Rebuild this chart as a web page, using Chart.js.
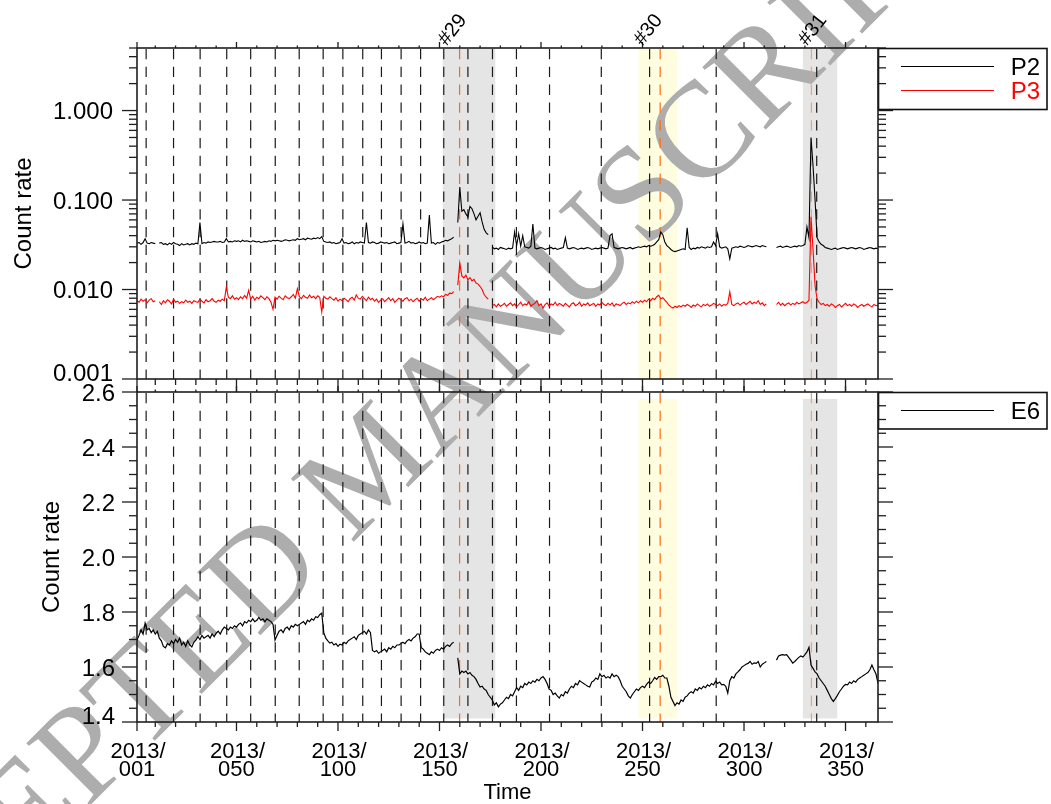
<!DOCTYPE html>
<html>
<head>
<meta charset="utf-8">
<script src="https://cdn.jsdelivr.net/npm/chart.js@4.4.0/dist/chart.umd.min.js"></script>
<style>
  html, body { margin: 0; padding: 0; background: #fff; }
  #wrap { position: relative; width: 1051px; height: 804px; }
  #wrap canvas { position: absolute; left: 0; top: 0; }
</style>
</head>
<body>
<div id="wrap">
  <canvas id="topPanel" width="1051" height="804"></canvas>
  <canvas id="bottomPanel" width="1051" height="804"></canvas>
</div>
<script>
// ---- data: daily count rates, day-of-year 2013 starting at firstDay ----
const firstDay = 1;

const p2 = [
  .033,.0335,.032,.0335,.037,.033,.0325,.0335,.033,.0325,
  null,.033,.0335,.032,.0325,.0315,.033,.032,.0335,.0325,
  .032,.031,.0325,.0315,.032,.0325,.0315,.0325,.032,.033,
  .0325,.056,.0325,.0335,.033,.034,.0335,.034,.0345,.034,
  .034,.0345,.0335,.034,.037,.034,.0345,.034,.035,.0345,
  .035,.034,.0355,.0345,.035,.0345,.034,.035,.0345,.034,
  .0345,.0335,.034,.0345,.034,.035,.0345,.0355,.035,.0355,
  .035,.0345,.035,.036,.0355,.035,.0355,.036,.0355,.037,
  .036,.0365,.037,.036,.0375,.037,.0365,.0375,.037,.038,
  .037,.039,.0345,.034,.0335,.034,.033,.0335,.0325,.033,
  .0335,.037,.033,.0335,.0325,.033,.034,.0325,.0335,.033,
  .034,.0335,.033,.056,.0335,.033,.034,.0335,.0325,.033,
  .034,.0335,.033,.0335,.0325,.033,.0335,.034,.0325,.033,
  .0335,.054,.033,.0335,.0345,.033,.0335,.0325,.033,.034,
  .033,.0335,.0325,.033,.068,.033,.0335,.032,.0335,.033,
  .034,.0345,.0355,.035,.036,.037,.0385,null,.056,.14,
  .075,.078,.07,.065,.085,.08,.07,.06,.066,.072,
  .057,.047,.043,.041,null,.030,.0285,.029,.028,.0295,
  .029,.0285,.028,.029,.0285,.029,.044,.031,.042,.0305,
  .040,.030,.0295,.029,.0305,.054,.029,.0285,.029,.0295,
  .029,.028,.0285,.029,.0295,.0285,.029,.028,.0285,.029,
  .0295,.038,.029,.0285,.029,.0295,.029,.028,.0285,.029,
  .0285,.029,.0295,.029,.028,.0285,.029,.0285,.029,.0295,
  .029,.0285,.029,.040,.042,.0295,.029,.0285,.029,.0295,
  .029,.0285,.029,.0295,.0285,.029,.0295,.030,.0295,.030,
  .0305,.030,.031,.0305,.031,.032,.034,.036,.044,.041,
  .034,.031,.0295,.028,.027,.0265,.027,.0275,.028,.0285,
  .028,.049,.0295,.028,.029,.0285,.0295,.029,.030,.0295,
  .029,.030,.0295,.030,.034,.031,.042,.030,.029,.0295,
  .030,.0285,.022,.029,.0295,.030,.0295,.0305,.030,.0295,
  .030,.031,.0305,.030,.0305,.031,.0305,.030,.031,.0305,
  .030,null,null,null,null,.0295,.030,.0305,.0295,.030,
  .0305,.030,.0295,.030,.0305,.030,.031,.0305,.031,.032,
  .050,.038,.50,.24,.10,.038,.034,.032,.031,.0295,
  .029,.0285,.028,.0285,.029,.028,.0285,.029,.0295,.029,
  .0285,.029,.0295,.029,.0285,.029,.0295,.029,.028,.0285,
  .029,.0295,.029,.0285,.029,.0285
];

const p3 = [
  .0075,.0072,.0078,.0074,.0077,.0071,.0076,.0079,.0073,.0075,
  null,.0073,.0068,.0075,.0071,.0077,.0074,.0069,.0078,.0072,
  .0074,.0070,.0073,.0071,.0076,.0072,.0074,.0070,.0075,.0073,
  .0072,.0078,.0074,.0071,.0077,.0073,.0075,.0079,.0074,.0072,
  .0076,.0074,.0078,.0075,.0106,.0082,.0079,.0085,.0078,.0081,
  .0077,.0083,.0079,.0086,.0080,.0098,.0078,.0084,.0076,.0082,
  .0079,.0085,.0081,.0077,.0083,.0079,.0072,.0060,.0082,.0078,
  .0084,.0080,.0077,.0085,.0081,.0079,.0083,.0088,.0080,.0102,
  .0083,.0079,.0086,.0082,.0080,.0087,.0081,.0084,.0079,.0085,
  .0082,.0056,.0084,.0080,.0078,.0083,.0079,.0076,.0081,.0074,
  .0078,.0075,.0080,.0077,.0073,.0079,.0082,.0076,.0087,.0080,
  .0078,.0084,.0079,.0075,.0082,.0077,.0080,.0074,.0078,.0072,
  .0076,.0079,.0073,.0077,.0081,.0075,.0079,.0072,.0076,.0080,
  .0077,.0074,.0079,.0081,.0075,.0078,.0073,.0077,.0080,.0074,
  .0079,.0076,.0082,.0075,.0078,.0081,.0077,.0080,.0084,.0082,
  .0085,.0083,.0088,.0086,.0091,.0090,.0095,null,.0112,.0197,
  .0142,.0135,.0145,.0128,.0136,.0125,.0130,.0118,.0115,.0108,
  .0100,.0088,.0082,.0078,null,.0066,.0068,.0064,.0069,.0065,
  .0067,.0070,.0065,.0068,.0071,.0066,.0069,.0064,.0068,.0072,
  .0066,.0069,.0067,.0073,.0065,.0068,.0070,.0075,.0066,.0069,
  .0062,.0068,.0071,.0065,.0069,.0067,.0072,.0066,.0070,.0068,
  .0065,.0070,.0067,.0064,.0069,.0071,.0066,.0068,.0072,.0065,
  .0069,.0067,.0071,.0066,.0068,.0070,.0065,.0069,.0067,.0072,
  .0068,.0066,.0070,.0067,.0071,.0065,.0069,.0068,.0066,.0070,
  .0072,.0068,.0071,.0069,.0073,.0070,.0074,.0071,.0075,.0072,
  .0076,.0073,.0078,.0075,.0080,.0077,.0083,.0086,.0079,.0081,
  .0076,.0072,.0067,.0064,.0062,.0065,.0063,.0066,.0064,.0067,
  .0065,.0068,.0066,.0063,.0067,.0065,.0069,.0066,.0064,.0068,
  .0066,.0069,.0065,.0067,.0070,.0068,.0066,.0069,.0065,.0068,
  .0067,.0070,.0094,.0068,.0066,.0069,.0071,.0067,.0070,.0072,
  .0068,.0071,.0074,.0069,.0072,.0070,.0075,.0068,.0071,.0066,
  .0069,null,null,null,null,.0068,.0072,.0067,.0070,.0066,
  .0069,.0071,.0067,.0070,.0068,.0072,.0069,.0071,.0073,.0070,
  .0072,.0076,.065,.028,.011,.0078,.0072,.0068,.0070,.0066,
  .0068,.0065,.0069,.0067,.0063,.0066,.0068,.0064,.0067,.0070,
  .0066,.0068,.0065,.0069,.0067,.0063,.0066,.0068,.0065,.0067,
  .0069,.0066,.0064,.0068,.0066,.0067
];

const e6 = [
  1.698,1.715,1.735,1.72,1.76,1.735,1.74,1.725,1.735,1.72,
  1.73,1.705,1.695,1.675,1.67,1.685,1.68,1.695,1.685,1.70,
  1.69,1.705,1.68,1.69,1.675,1.695,1.68,1.673,1.69,1.698,
  1.71,1.70,1.715,1.705,1.71,1.715,1.705,1.72,1.71,1.723,
  1.73,1.72,1.735,1.745,1.74,1.735,1.745,1.74,1.75,1.745,
  1.755,1.76,1.75,1.765,1.76,1.77,1.765,1.775,1.765,1.77,
  1.78,1.77,1.775,1.765,1.775,1.77,1.765,1.755,1.698,1.715,
  1.73,1.735,1.725,1.74,1.745,1.735,1.75,1.745,1.755,1.75,
  1.755,1.76,1.765,1.755,1.77,1.765,1.775,1.77,1.783,1.78,
  1.79,1.796,1.725,1.705,1.695,1.687,1.69,1.68,1.685,1.675,
  1.683,1.68,1.69,1.685,1.695,1.70,1.705,1.71,1.70,1.715,
  1.72,1.725,1.73,1.72,1.735,1.725,1.66,1.655,1.66,1.65,
  1.655,1.66,1.665,1.655,1.67,1.665,1.675,1.67,1.68,1.68,
  1.685,1.69,1.685,1.695,1.70,1.695,1.705,1.71,1.72,1.72,
  1.67,1.665,1.655,1.65,1.645,1.655,1.65,1.66,1.665,1.66,
  1.67,1.665,1.675,1.68,1.675,1.685,1.69,null,1.633,1.575,
  1.585,1.58,1.585,1.575,1.58,1.57,1.565,1.555,1.54,1.527,
  1.53,1.52,1.515,1.50,1.49,1.48,1.462,1.47,1.455,1.465,
  1.47,1.48,1.49,1.485,1.50,1.495,1.51,1.525,1.515,1.53,
  1.525,1.54,1.535,1.545,1.54,1.55,1.545,1.555,1.55,1.56,
  1.565,1.555,1.54,1.52,1.515,1.50,1.505,1.495,1.487,1.50,
  1.495,1.51,1.505,1.52,1.53,1.525,1.54,1.535,1.55,1.545,
  1.54,1.535,1.53,1.527,1.545,1.55,1.56,1.555,1.575,1.565,
  1.57,1.56,1.565,1.56,1.575,1.565,1.57,1.565,1.55,1.53,
  1.52,1.51,1.495,1.487,1.50,1.51,1.52,1.515,1.525,1.53,
  1.525,1.537,1.545,1.54,1.55,1.562,1.555,1.565,1.565,1.57,
  1.56,1.56,1.53,1.49,1.475,1.46,1.47,1.465,1.48,1.475,
  1.49,1.495,1.505,1.51,1.505,1.52,1.515,1.525,1.52,1.53,
  1.525,1.535,1.53,1.54,1.535,1.548,1.54,1.545,1.535,1.537,
  1.53,1.505,1.55,1.565,1.56,1.575,1.582,1.59,1.60,1.605,
  1.61,1.613,1.62,1.61,1.615,1.613,1.62,1.60,1.61,1.615,
  1.62,null,null,null,null,1.625,1.64,1.643,1.645,1.643,
  1.645,1.635,1.625,1.614,1.62,1.628,1.635,1.64,1.636,1.645,
  1.655,1.672,1.607,1.595,1.582,1.575,1.56,1.55,1.54,1.53,
  1.515,1.50,1.485,1.475,1.485,1.497,1.51,1.52,1.53,1.537,
  1.535,1.545,1.54,1.55,1.545,1.555,1.56,1.565,1.57,1.575,
  1.58,1.59,1.607,1.59,1.575,1.54
];

// boundary days (black dashed) and onset days (orange dashed)
const boundaryDays = [5.5, 19, 32.1, 45.2, 57, 69.1, 80.9, 92.7, 102.4, 112.2, 121.4,
  131.1, 140.7, 152.1, 164, 176.1, 187.9, 204.2, 229.7, 253.5, 286.3, 335.8];
const onsetDays = [159.9, 258.7, 333.2];

// highlighted intervals (day-of-year) and their names
const intervalStart = [151.6, 248.0, 329.0];
const intervalEnd   = [177.5, 267.1, 345.9];
const intervalNames = ['#29', '#30', '#31'];

// axis ticks
const dayMajorTicks = [1, 50, 100, 150, 200, 250, 300, 350];
const dayMajorLabels = ['001', '050', '100', '150', '200', '250', '300', '350'];
const dayMinorTicks = [10, 20, 30, 40, 60, 70, 80, 90, 110, 120, 130, 140, 160, 170, 180, 190,
  210, 220, 230, 240, 260, 270, 280, 290, 310, 320, 330, 340, 360];
const topMajorTicks = [0.001, 0.01, 0.1, 1];
const topMajorLabels = ['0.001', '0.010', '0.100', '1.000'];
const topMinorTicks = [.002, .003, .004, .005, .006, .007, .008, .009,
  .02, .03, .04, .05, .06, .07, .08, .09, .2, .3, .4, .5, .6, .7, .8, .9, 2, 3, 4, 5];
const bottomMajorTicks = [1.4, 1.6, 1.8, 2.0, 2.2, 2.4, 2.6];
const bottomMinorTicks = [1.45, 1.5, 1.55, 1.65, 1.7, 1.75, 1.85, 1.9, 1.95, 2.05, 2.1, 2.15,
  2.25, 2.3, 2.35, 2.45, 2.5, 2.55];

// ---- styles ----
const SANS = "'Liberation Sans', Arial, Helvetica, sans-serif";
const SERIF = "'Liberation Serif', 'Times New Roman', serif";
const AXIS_COLOR = '#1e1e1e';
const intervalFill = ['#e5e5e5', '#fffde0', '#e5e5e5'];
const onsetColor = ['#ff6a10', '#ff6a10', '#f4a06e'];
const PAGE_W = 1051, PAGE_H = 804;
const PANEL_SPLIT = 385.5;

const WATERMARK = 'ACCEPTED MANUSCRIPT';
const wm = { size: 136, angle: 45, anchorText: 'ACCEPTED ', anchorGlyph: 'M', x: 362, y: 470 };

function toPoints(values) {
  return values.map((v, i) => ({ x: firstDay + i, y: v }));
}

function line(ctx, x1, y1, x2, y2) {
  ctx.beginPath(); ctx.moveTo(x1, y1); ctx.lineTo(x2, y2); ctx.stroke();
}

function drawWatermark(ctx, clipTop, clipBottom) {
  ctx.save();
  ctx.beginPath();
  ctx.rect(0, clipTop, PAGE_W, clipBottom - clipTop);
  ctx.clip();
  ctx.font = wm.size + 'px ' + SERIF;
  ctx.fillStyle = '#adadad';
  ctx.textBaseline = 'alphabetic';
  ctx.textAlign = 'left';
  const pre = ctx.measureText(wm.anchorText).width;
  const gw = ctx.measureText(wm.anchorGlyph).width;
  ctx.translate(wm.x, wm.y);
  ctx.rotate(-wm.angle * Math.PI / 180);
  ctx.fillText(WATERMARK, -pre - gw / 2, 0.331 * wm.size);
  ctx.restore();
}

function drawIntervals(chart, yFrom, yTo) {
  const { ctx, scales: { x } } = chart;
  ctx.save();
  intervalStart.forEach((s, i) => {
    const x1 = x.getPixelForValue(s), x2 = x.getPixelForValue(intervalEnd[i]);
    ctx.fillStyle = intervalFill[i];
    ctx.fillRect(x1, yFrom, x2 - x1, yTo - yFrom);
  });
  ctx.restore();
}

function drawEventLines(chart) {
  const { ctx, chartArea: a, scales: { x } } = chart;
  ctx.save();
  ctx.lineWidth = 1.2;
  ctx.setLineDash([10.3, 7.5]);
  ctx.strokeStyle = '#1a1a1a';
  boundaryDays.forEach(d => {
    const px = x.getPixelForValue(d);
    line(ctx, px, a.top + 1, px, a.bottom);
  });
  onsetDays.forEach((d, i) => {
    ctx.strokeStyle = onsetColor[i];
    const px = x.getPixelForValue(d);
    line(ctx, px, a.top + 1, px, a.bottom);
  });
  ctx.restore();
}

function drawYTicks(chart, scale, majors, minors) {
  const { ctx, chartArea: a } = chart;
  [[majors, 15], [minors, 8]].forEach(([list, len]) => {
    list.forEach(v => {
      const py = scale.getPixelForValue(v);
      line(ctx, a.left - len, py, a.left, py);
      line(ctx, a.right, py, a.right + len, py);
    });
  });
}

function drawXTicks(chart, y, dir, majorLen, minorLen) {
  const { ctx, scales: { x } } = chart;
  dayMajorTicks.forEach(d => { const px = x.getPixelForValue(d); line(ctx, px, y, px, y + dir * majorLen); });
  dayMinorTicks.forEach(d => { const px = x.getPixelForValue(d); line(ctx, px, y, px, y + dir * minorLen); });
}

function drawYLabels(chart, scale, values, labels, rightX, size) {
  const { ctx, chartArea: a } = chart;
  const cap = size * 0.716;
  ctx.font = size + 'px ' + SANS;
  ctx.fillStyle = '#000';
  ctx.textAlign = 'right';
  ctx.textBaseline = 'alphabetic';
  values.forEach((v, i) => {
    const py = scale.getPixelForValue(v);
    const cy = Math.min(py, a.bottom + 1.5 - cap / 2);
    ctx.fillText(labels[i], rightX, cy + cap / 2);
  });
}

function drawYTitle(ctx, text, cx, cy, size) {
  ctx.save();
  ctx.font = size + 'px ' + SANS;
  ctx.fillStyle = '#000';
  ctx.textAlign = 'center';
  ctx.textBaseline = 'middle';
  ctx.translate(cx, cy);
  ctx.rotate(-Math.PI / 2);
  ctx.fillText(text, 0, 0);
  ctx.restore();
}

function drawLegend(ctx, top, bottom, entries) {
  ctx.save();
  ctx.strokeStyle = '#111';
  ctx.lineWidth = 1.6;
  ctx.strokeRect(878.5, top + 0.5, 168.5, bottom - top);
  ctx.font = '24px ' + SANS;
  ctx.textAlign = 'right';
  ctx.textBaseline = 'alphabetic';
  entries.forEach(e => {
    ctx.strokeStyle = e.color;
    ctx.lineWidth = 1;
    line(ctx, 901, e.y, 994, e.y);
    ctx.fillStyle = e.color;
    ctx.fillText(e.label, 1040, e.y + 8.2);
  });
  ctx.restore();
}

const topPlugin = {
  id: 'topPanelDecor',
  beforeDatasetsDraw(chart) {
    const a = chart.chartArea;
    drawIntervals(chart, a.top, a.bottom);
    drawWatermark(chart.ctx, 0, PANEL_SPLIT);
    drawEventLines(chart);
  },
  afterDatasetsDraw(chart) {
    const { ctx, chartArea: a, scales: { y } } = chart;
    ctx.save();
    ctx.strokeStyle = AXIS_COLOR;
    ctx.lineWidth = 1.3;
    drawXTicks(chart, a.top, -1, 6, 2.5);
    drawXTicks(chart, a.bottom, 1, 13, 6);
    drawYTicks(chart, y, topMajorTicks, topMinorTicks);
    drawLegend(ctx, 48, 109, [
      { label: 'P2', color: '#000', y: 66.5 },
      { label: 'P3', color: '#ff0000', y: 90.5 }
    ]);
    ctx.strokeStyle = AXIS_COLOR;
    ctx.lineWidth = 1.6;
    ctx.strokeRect(a.left, a.top, a.right - a.left, a.bottom - a.top);
    drawYLabels(chart, y, topMajorTicks, topMajorLabels, a.left - 24, 24);
    drawYTitle(ctx, 'Count rate', 24, (a.top + a.bottom) / 2, 24);
    // interval names above the frame
    ctx.font = '20px ' + SANS;
    ctx.fillStyle = '#000';
    ctx.textAlign = 'left';
    ctx.textBaseline = 'alphabetic';
    intervalStart.forEach((s, i) => {
      ctx.save();
      ctx.translate(chart.scales.x.getPixelForValue(s) + 4, a.top - 1.5);
      ctx.rotate(-52 * Math.PI / 180);
      ctx.fillText(intervalNames[i], 0, 0);
      ctx.restore();
    });
    ctx.restore();
  }
};

const bottomPlugin = {
  id: 'bottomPanelDecor',
  beforeDatasetsDraw(chart) {
    const y = chart.scales.y;
    drawIntervals(chart, y.getPixelForValue(2.575), y.getPixelForValue(1.413));
    drawWatermark(chart.ctx, PANEL_SPLIT, PAGE_H);
    drawEventLines(chart);
  },
  afterDatasetsDraw(chart) {
    const { ctx, chartArea: a, scales: { x, y } } = chart;
    ctx.save();
    ctx.strokeStyle = AXIS_COLOR;
    ctx.lineWidth = 1.3;
    drawXTicks(chart, a.top, -1, 6, 2.5);
    drawXTicks(chart, a.bottom, 1, 9, 5);
    drawYTicks(chart, y, bottomMajorTicks, bottomMinorTicks);
    drawLegend(ctx, 392, 428.5, [{ label: 'E6', color: '#000', y: 410.5 }]);
    ctx.strokeStyle = AXIS_COLOR;
    ctx.lineWidth = 1.6;
    ctx.strokeRect(a.left, a.top, a.right - a.left, a.bottom - a.top);
    drawYLabels(chart, y, bottomMajorTicks, bottomMajorTicks.map(v => v.toFixed(1)), a.left - 22, 24);
    drawYTitle(ctx, 'Count rate', 52, (a.top + a.bottom) / 2, 24);
    // day-of-year labels
    ctx.font = '22px ' + SANS;
    ctx.fillStyle = '#000';
    ctx.textAlign = 'center';
    ctx.textBaseline = 'alphabetic';
    dayMajorTicks.forEach((d, i) => {
      const px = x.getPixelForValue(d);
      ctx.fillText('2013/', px + 1, a.bottom + 35.5);
      ctx.fillText(dayMajorLabels[i], px, a.bottom + 53.7);
    });
    ctx.fillText('Time', (a.left + a.right) / 2, a.bottom + 77);
    ctx.restore();
  }
};

function makePanel(canvasId, datasets, yScale, padding, plugin) {
  return new Chart(document.getElementById(canvasId), {
    type: 'line',
    data: { datasets },
    options: {
      responsive: false,
      animation: false,
      events: [],
      layout: { padding },
      spanGaps: false,
      elements: { point: { radius: 0 }, line: { tension: 0, borderWidth: 1 } },
      plugins: { legend: { display: false }, tooltip: { enabled: false }, title: { display: false } },
      scales: {
        x: { type: 'linear', min: 1, max: 366, display: false },
        y: Object.assign({ display: false }, yScale)
      }
    },
    plugins: [plugin]
  });
}

makePanel('topPanel', [
  { label: 'P2', data: toPoints(p2), borderColor: '#000000', borderWidth: 1.1 },
  { label: 'P3', data: toPoints(p3), borderColor: '#ff0000', borderWidth: 1.1 }
], { type: 'logarithmic', min: 0.001, max: 5 },
{ left: 137, right: PAGE_W - 878, top: 48, bottom: PAGE_H - 379 }, topPlugin);

makePanel('bottomPanel', [
  { label: 'E6', data: toPoints(e6), borderColor: '#000000', borderWidth: 1.2 }
], { type: 'linear', min: 1.4, max: 2.6 },
{ left: 137, right: PAGE_W - 878, top: 392, bottom: PAGE_H - 722 }, bottomPlugin);
</script>
</body>
</html>
